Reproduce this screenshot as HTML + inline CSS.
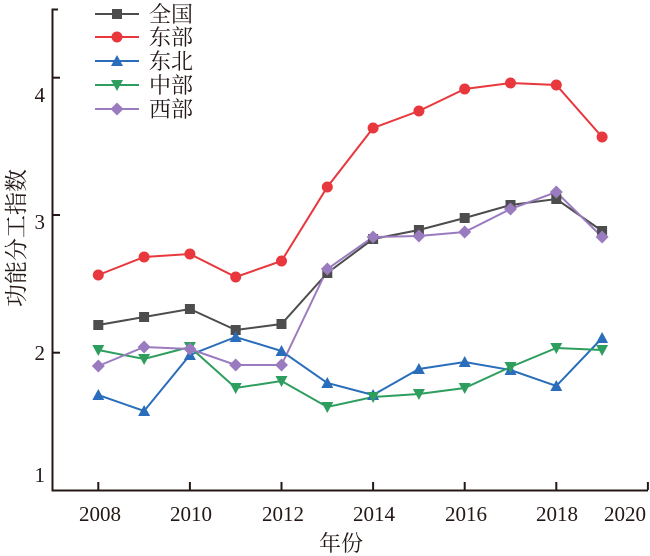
<!DOCTYPE html>
<html><head><meta charset="utf-8"><style>body{margin:0;background:#fff}svg{display:block}</style></head>
<body>
<svg width="650" height="556" viewBox="0 0 650 556" xmlns="http://www.w3.org/2000/svg" font-family="Liberation Serif, Noto Serif CJK SC, serif">
<defs>
<g id="sq"><rect x="-5" y="-5" width="10" height="10" fill="#4d4d4d"/></g>
<g id="ci"><circle r="5.5" fill="#e8383d"/></g>
<g id="tu"><polygon points="0,-6 6,5 -6,5" fill="#2a6ebb"/></g>
<g id="td"><polygon points="0,6 6,-5 -6,-5" fill="#2e9e5e"/></g>
<g id="di"><polygon points="0,-6.5 6.5,0 0,6.5 -6.5,0" fill="#9b7bbf"/></g>
</defs>
<g stroke="#231815" stroke-width="2" fill="none">
<polyline points="58,9.5 52.5,9.5 52.5,490.5 648,490.5"/>
<line x1="52.5" y1="77.7" x2="60" y2="77.7"/>
<line x1="52.5" y1="215" x2="60" y2="215"/>
<line x1="52.5" y1="352.7" x2="60" y2="352.7"/>
<g>
<line x1="98.3" y1="490" x2="98.3" y2="482"/>
<line x1="189.9" y1="490" x2="189.9" y2="482"/>
<line x1="281.5" y1="490" x2="281.5" y2="482"/>
<line x1="373.1" y1="490" x2="373.1" y2="482"/>
<line x1="464.7" y1="490" x2="464.7" y2="482"/>
<line x1="556.3" y1="490" x2="556.3" y2="482"/>
<line x1="647.9" y1="490" x2="647.9" y2="482"/>
</g>
</g>
<g font-size="21" fill="#231815" text-anchor="end">
<text x="45" y="102">4</text>
<text x="45" y="229">3</text>
<text x="45" y="360">2</text>
<text x="45" y="482">1</text>
</g>
<g font-size="21" fill="#231815" text-anchor="middle">
<text x="100" y="521">2008</text>
<text x="191" y="521">2010</text>
<text x="283" y="521">2012</text>
<text x="374" y="521">2014</text>
<text x="466" y="521">2016</text>
<text x="557" y="521">2018</text>
<text x="625" y="521">2020</text>
<text x="341" y="551" font-size="22">年份</text>
<text transform="translate(24,238) rotate(-90)" font-size="23">功能分工指数</text>
</g>
<g fill="none" stroke-width="2">
<polyline stroke="#4d4d4d" points="98.3,325 144.1,317 189.9,309 235.7,330 281.5,324 327.3,273 373.1,239 418.9,230 464.7,218 510.5,205 556.3,199 602.1,231"/>
<polyline stroke="#e8383d" points="98.3,275 144.1,257 189.9,254 235.7,277 281.5,261 327.3,187 373.1,128 418.9,111 464.7,89 510.5,83 556.3,85 602.1,137"/>
<polyline stroke="#2a6ebb" points="98.3,395 144.1,411 189.9,355 235.7,337 281.5,351 327.3,383 373.1,395 418.9,369 464.7,362 510.5,370 556.3,386 602.1,338"/>
<polyline stroke="#2e9e5e" points="98.3,350 144.1,359 189.9,347 235.7,388 281.5,381 327.3,407 373.1,397 418.9,394 464.7,388 510.5,367 556.3,348 602.1,350"/>
<polyline stroke="#9b7bbf" points="98.3,366 144.1,347 189.9,349 235.7,365 281.5,365 327.3,269 373.1,237 418.9,236 464.7,232 510.5,209 556.3,192 602.1,237"/>
</g>
<g>
<use href="#sq" x="98.3" y="325"/><use href="#sq" x="144.1" y="317"/><use href="#sq" x="189.9" y="309"/><use href="#sq" x="235.7" y="330"/><use href="#sq" x="281.5" y="324"/><use href="#sq" x="327.3" y="273"/><use href="#sq" x="373.1" y="239"/><use href="#sq" x="418.9" y="230"/><use href="#sq" x="464.7" y="218"/><use href="#sq" x="510.5" y="205"/><use href="#sq" x="556.3" y="199"/><use href="#sq" x="602.1" y="231"/>
<use href="#ci" x="98.3" y="275"/><use href="#ci" x="144.1" y="257"/><use href="#ci" x="189.9" y="254"/><use href="#ci" x="235.7" y="277"/><use href="#ci" x="281.5" y="261"/><use href="#ci" x="327.3" y="187"/><use href="#ci" x="373.1" y="128"/><use href="#ci" x="418.9" y="111"/><use href="#ci" x="464.7" y="89"/><use href="#ci" x="510.5" y="83"/><use href="#ci" x="556.3" y="85"/><use href="#ci" x="602.1" y="137"/>
<use href="#tu" x="98.3" y="395"/><use href="#tu" x="144.1" y="411"/><use href="#tu" x="189.9" y="355"/><use href="#tu" x="235.7" y="337"/><use href="#tu" x="281.5" y="351"/><use href="#tu" x="327.3" y="383"/><use href="#tu" x="373.1" y="395"/><use href="#tu" x="418.9" y="369"/><use href="#tu" x="464.7" y="362"/><use href="#tu" x="510.5" y="370"/><use href="#tu" x="556.3" y="386"/><use href="#tu" x="602.1" y="338"/>
<use href="#td" x="98.3" y="350"/><use href="#td" x="144.1" y="359"/><use href="#td" x="189.9" y="347"/><use href="#td" x="235.7" y="388"/><use href="#td" x="281.5" y="381"/><use href="#td" x="327.3" y="407"/><use href="#td" x="373.1" y="397"/><use href="#td" x="418.9" y="394"/><use href="#td" x="464.7" y="388"/><use href="#td" x="510.5" y="367"/><use href="#td" x="556.3" y="348"/><use href="#td" x="602.1" y="350"/>
<use href="#di" x="98.3" y="366"/><use href="#di" x="144.1" y="347"/><use href="#di" x="189.9" y="349"/><use href="#di" x="235.7" y="365"/><use href="#di" x="281.5" y="365"/><use href="#di" x="327.3" y="269"/><use href="#di" x="373.1" y="237"/><use href="#di" x="418.9" y="236"/><use href="#di" x="464.7" y="232"/><use href="#di" x="510.5" y="209"/><use href="#di" x="556.3" y="192"/><use href="#di" x="602.1" y="237"/>
</g>
<g stroke-width="2">
<line x1="95" y1="14" x2="139" y2="14" stroke="#4d4d4d"/><use href="#sq" x="117" y="14"/>
<line x1="95" y1="37" x2="139" y2="37" stroke="#e8383d"/><use href="#ci" x="117" y="37"/>
<line x1="95" y1="61" x2="139" y2="61" stroke="#2a6ebb"/><use href="#tu" x="117" y="61"/>
<line x1="95" y1="85" x2="139" y2="85" stroke="#2e9e5e"/><use href="#td" x="117" y="85"/>
<line x1="95" y1="109" x2="139" y2="109" stroke="#9b7bbf"/><use href="#di" x="117" y="109"/>
</g>
<g font-size="22" fill="#231815">
<text x="149" y="22">全国</text>
<text x="149" y="45">东部</text>
<text x="149" y="69">东北</text>
<text x="149" y="93">中部</text>
<text x="149" y="117">西部</text>
</g>
</svg>
</body></html>
